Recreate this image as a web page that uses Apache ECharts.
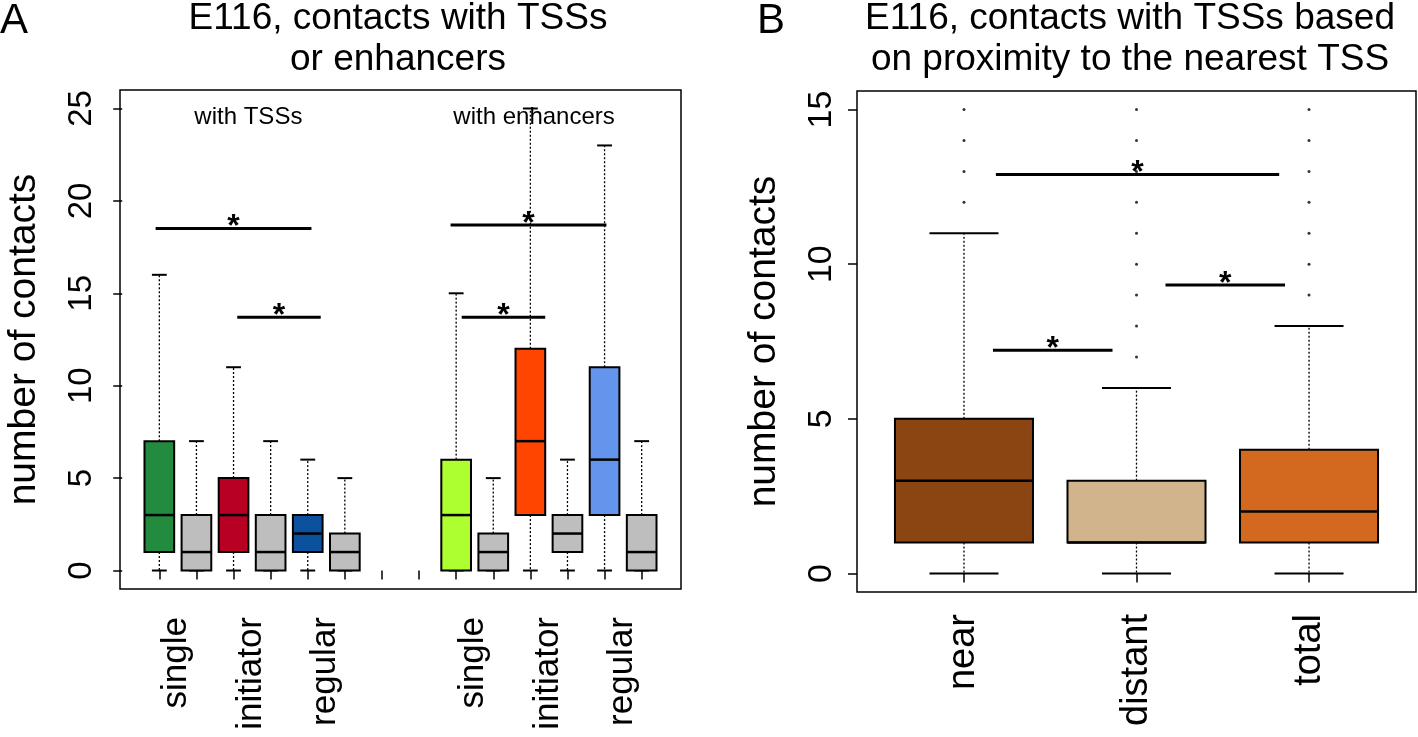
<!DOCTYPE html>
<html><head><meta charset="utf-8">
<script src="https://cdn.jsdelivr.net/npm/echarts@6/dist/echarts.min.js"></script>
<style>html,body{margin:0;padding:0;background:#fff}#c{width:1418px;height:737px}</style>
</head><body><div id="c"></div><script>
// ---------- Panel A data ----------
const labelPosA = [1, 3, 5, 9, 11, 13];
const labelsA = ['single', 'initiator', 'regular', 'single', 'initiator', 'regular'];
const tickPosA = [1,2,3,4,5,6,7,8,9,10,11,12,13,14];
const boxPosA = [1, 2, 3, 4, 5, 6, 9, 10, 11, 12, 13, 14];
const lowA    = [0, 0, 0, 0, 0, 0, 0, 0, 0, 0, 0, 0];
const q1A     = [1, 0, 1, 0, 1, 0, 0, 0, 3, 1, 3, 0];
const medA    = [3, 1, 3, 1, 2, 1, 3, 1, 7, 2, 6, 1];
const q3A     = [7, 3, 5, 3, 3, 2, 6, 2, 12, 3, 11, 3];
const highA   = [16, 7, 11, 7, 6, 5, 15, 5, 25, 6, 23, 7];
const groupLabelsA = ['with TSSs', 'with enhancers'];
const groupLabelPosA = [3.4, 11.1];
const groupLabelLevelA = [24.5, 24.5];
const sigStartA = [0.9, 3.1, 8.85, 9.15];
const sigEndA   = [5.1, 5.35, 13.05, 11.4];
const sigLevelA = [18.5, 13.7, 18.7, 13.7];
const yTicksA = [0, 5, 10, 15, 20, 25];

// ---------- Panel B data ----------
const labelsB = ['near', 'distant', 'total'];
const boxPosB = [1, 2, 3];
const lowB  = [0, 0, 0];
const q1B   = [1, 1, 1];
const medB  = [3, 1, 2];
const q3B   = [5, 3, 4];
const highB = [11, 6, 8];
const outNear    = [12, 13, 14, 15];
const outDistant = [7, 8, 9, 10, 11, 12, 13, 14, 15];
const outTotal   = [9, 10, 11, 12, 13, 14, 15];
const sigStartB = [1.185, 1.168, 2.168];
const sigEndB   = [2.827, 1.861, 2.861];
const sigLevelB = [12.9, 7.22, 9.33];
const yTicksB = [0, 5, 10, 15];

// ---------- styles ----------
const FONT = 'Liberation Sans, Arial, Helvetica, sans-serif';
const fillA = ['#228B3E', '#BEBEBE', '#B80022', '#BEBEBE', '#0B519E', '#BEBEBE',
               '#ADFF2F', '#BEBEBE', '#FF4500', '#BEBEBE', '#6495ED', '#BEBEBE'];
const fillB = ['#8B4513', '#D2B48C', '#D2691E'];

function boxSeries(xi, pos, lo, q1, med, q3, hi, fills) {
  const data = pos.map((p, i) => [p, lo[i], q1[i], med[i], q3[i], hi[i], i]);
  return {
    type: 'custom', xAxisIndex: xi, yAxisIndex: xi, data: data,
    encode: { x: 0, y: [1, 2, 3, 4, 5] }, silent: true,
    renderItem: function (params, api) {
      const p = api.value(0);
      const xc = api.coord([p, 0])[0];
      const yLo = api.coord([p, api.value(1)])[1];
      const yQ1 = api.coord([p, api.value(2)])[1];
      const yMed = api.coord([p, api.value(3)])[1];
      const yQ3 = api.coord([p, api.value(4)])[1];
      const yHi = api.coord([p, api.value(5)])[1];
      const w = api.size([0.8, 0])[0];
      const cw = w / 2;
      const dash = { stroke: '#000', lineWidth: 1.3, lineDash: [2, 2] };
      const solid = { stroke: '#000', lineWidth: 2 };
      return { type: 'group', children: [
        { type: 'line', shape: { x1: xc, y1: yQ3, x2: xc, y2: yHi }, style: dash },
        { type: 'line', shape: { x1: xc, y1: yQ1, x2: xc, y2: yLo }, style: dash },
        { type: 'line', shape: { x1: xc - cw / 2, y1: yHi, x2: xc + cw / 2, y2: yHi }, style: solid },
        { type: 'line', shape: { x1: xc - cw / 2, y1: yLo, x2: xc + cw / 2, y2: yLo }, style: solid },
        { type: 'rect', shape: { x: xc - w / 2, y: yQ3, width: w, height: yQ1 - yQ3 },
          style: { fill: fills[api.value(6)], stroke: '#000', lineWidth: 2 } },
        { type: 'line', shape: { x1: xc - w / 2, y1: yMed, x2: xc + w / 2, y2: yMed },
          style: { stroke: '#000', lineWidth: 2.5 } }
      ] };
    }
  };
}

function sigSeries(xi, s, e, lv) {
  const data = s.map((v, i) => [v, e[i], lv[i]]);
  return {
    type: 'custom', xAxisIndex: xi, yAxisIndex: xi, data: data, silent: true,
    encode: { x: [0, 1], y: 2 },
    renderItem: function (params, api) {
      const a = api.coord([api.value(0), api.value(2)]);
      const b = api.coord([api.value(1), api.value(2)]);
      return { type: 'group', children: [
        { type: 'line', shape: { x1: a[0], y1: a[1], x2: b[0], y2: b[1] },
          style: { stroke: '#000', lineWidth: 3 } },
        { type: 'text', x: (a[0] + b[0]) / 2, y: a[1] + 15,
          style: { text: '*', align: 'center', verticalAlign: 'bottom', fontSize: 32,
                   fontWeight: 'bold', fontFamily: FONT, fill: '#000' } }
      ] };
    }
  };
}

const outData = [];
outNear.forEach(v => outData.push([1, v]));
outDistant.forEach(v => outData.push([2, v]));
outTotal.forEach(v => outData.push([3, v]));

const chart = echarts.init(document.getElementById('c'));
chart.setOption({
  animation: false,
  backgroundColor: '#fff',
  textStyle: { fontFamily: FONT, color: '#000' },
  title: [
    { text: 'A', left: 0, top: 0, padding: 0, textStyle: { fontSize: 42, fontWeight: 'normal', color: '#000', fontFamily: FONT } },
    { text: 'E116, contacts with TSSs\nor enhancers', left: 398, top: -2, padding: 0, textAlign: 'center',
      textStyle: { fontSize: 37, lineHeight: 41, fontWeight: 'normal', color: '#000', fontFamily: FONT } },
    { text: 'B', left: 757, top: 0, padding: 0, textStyle: { fontSize: 42, fontWeight: 'normal', color: '#000', fontFamily: FONT } },
    { text: 'E116, contacts with TSSs based\non proximity to the nearest TSS', left: 1130, top: -2, padding: 0, textAlign: 'center',
      textStyle: { fontSize: 37, lineHeight: 41, fontWeight: 'normal', color: '#000', fontFamily: FONT } }
  ],
  grid: [
    { left: 120, top: 90, width: 561, height: 499, show: true, borderColor: '#000', borderWidth: 1.5, backgroundColor: 'transparent' },
    { left: 857, top: 91, width: 559, height: 501, show: true, borderColor: '#000', borderWidth: 1.5, backgroundColor: 'transparent' }
  ],
  xAxis: [
    { gridIndex: 0, type: 'value', min: -0.06, max: 15.06,
      splitLine: { show: false }, axisLine: { show: false },
      axisTick: { show: true, customValues: tickPosA, length: 9, lineStyle: { color: '#000', width: 1.5 } },
      axisLabel: { customValues: labelPosA, rotate: 90, margin: 28, fontSize: 35, color: '#000', fontFamily: FONT,
                   verticalAlign: 'top',
                   formatter: v => labelsA[labelPosA.indexOf(v)] } },
    { gridIndex: 1, type: 'value', min: 0.38, max: 3.62,
      splitLine: { show: false }, axisLine: { show: false },
      axisTick: { show: true, customValues: boxPosB, length: 9, lineStyle: { color: '#000', width: 1.5 } },
      axisLabel: { customValues: boxPosB, rotate: 90, margin: 22, fontSize: 38, color: '#000', fontFamily: FONT,
                   formatter: v => labelsB[boxPosB.indexOf(v)] } }
  ],
  yAxis: [
    { gridIndex: 0, type: 'value', min: -1, max: 26,
      splitLine: { show: false }, axisLine: { show: false },
      axisTick: { show: true, customValues: yTicksA, length: 9, lineStyle: { color: '#000', width: 1.5 } },
      axisLabel: { customValues: yTicksA, rotate: 90, margin: 22, fontSize: 33, color: '#000', fontFamily: FONT },
      name: 'number of contacts', nameLocation: 'middle', nameGap: 76,
      nameTextStyle: { fontSize: 39, color: '#000', fontFamily: FONT } },
    { gridIndex: 1, type: 'value', min: -0.6, max: 15.6,
      splitLine: { show: false }, axisLine: { show: false },
      axisTick: { show: true, customValues: yTicksB, length: 9, lineStyle: { color: '#000', width: 1.5 } },
      axisLabel: { customValues: yTicksB, rotate: 90, margin: 18, fontSize: 34, color: '#000', fontFamily: FONT },
      name: 'number of contacts', nameLocation: 'middle', nameGap: 73,
      nameTextStyle: { fontSize: 39, color: '#000', fontFamily: FONT } }
  ],
  series: [
    boxSeries(0, boxPosA, lowA, q1A, medA, q3A, highA, fillA),
    boxSeries(1, boxPosB, lowB, q1B, medB, q3B, highB, fillB),
    sigSeries(0, sigStartA, sigEndA, sigLevelA),
    sigSeries(1, sigStartB, sigEndB, sigLevelB),
    { type: 'scatter', xAxisIndex: 1, yAxisIndex: 1, data: outData, symbol: 'circle', symbolSize: 3,
      itemStyle: { color: '#000' }, silent: true },
    { type: 'custom', xAxisIndex: 0, yAxisIndex: 0, silent: true,
      data: groupLabelsA.map((t, i) => [groupLabelPosA[i], groupLabelLevelA[i], i]),
      encode: { x: 0, y: 1 },
      renderItem: function (params, api) {
        const c = api.coord([api.value(0), api.value(1)]);
        return { type: 'text', x: c[0], y: c[1],
          style: { text: groupLabelsA[api.value(2)], align: 'center', verticalAlign: 'middle',
                   fontSize: 24, fontFamily: FONT, fill: '#000' } };
      } }
  ]
});
</script></body></html>
